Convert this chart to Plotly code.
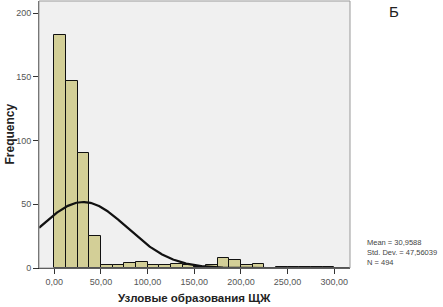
import numpy as np
import plotly.graph_objects as go

bin_starts = [0, 12.5, 25, 37.5, 50, 62.5, 75, 87.5, 100, 112.5, 125, 137.5, 150, 162.5,
              175, 187.5, 200, 212.5, 225, 237.5, 250, 262.5, 275, 287.5]
counts = [183, 147, 90, 25, 2, 2, 4, 5, 2, 2, 3, 2, 1, 2,
          8, 6, 2, 3, 0, 1, 1, 1, 1, 1]
bin_width = 12.5
mean_val = 30.9588
sd_val = 47.56039
n_val = 494
x_ticks = [0, 50, 100, 150, 200, 250, 300]
x_tick_labels = ["0,00", "50,00", "100,00", "150,00", "200,00", "250,00", "300,00"]
y_ticks = [0, 50, 100, 150, 200]

x_range = [-16.4, 316.9]
centers = [s + bin_width / 2 for s in bin_starts]

xs = np.linspace(x_range[0], x_range[1], 400)
ys = n_val * bin_width / (sd_val * np.sqrt(2 * np.pi)) * np.exp(-0.5 * ((xs - mean_val) / sd_val) ** 2)

fig = go.Figure()
fig.add_trace(go.Bar(x=centers, y=counts, width=bin_width,
                     marker=dict(color="#d3cf97", line=dict(color="#111111", width=1)),
                     showlegend=False))
fig.add_trace(go.Scatter(x=xs, y=ys, mode="lines", line=dict(color="#111111", width=2.2),
                         showlegend=False))

fig.update_layout(
    width=443, height=307,
    margin=dict(l=39, r=93, t=1, b=39, autoexpand=False),
    paper_bgcolor="white", plot_bgcolor="#f0f0f0",
    font=dict(family="Liberation Sans, Arial, sans-serif", color="#333333", size=9),
    bargap=0,
    xaxis=dict(range=x_range, tickvals=x_ticks, ticktext=x_tick_labels, automargin=False,
               ticks="outside", ticklen=5, tickcolor="#333333", showgrid=False, zeroline=False,
               showline=True, linecolor="#222222", linewidth=1, mirror=False,
               tickfont=dict(size=9, color="#555555")),
    yaxis=dict(range=[0, 209.6], tickvals=y_ticks, ticks="outside", ticklen=5, tickcolor="#333333",
               showgrid=False, zeroline=False, showline=True, linecolor="#555555", linewidth=1,
               automargin=False, tickfont=dict(size=9, color="#555555")),
)

# plot frame
fig.add_shape(type="rect", xref="paper", yref="paper", x0=0, y0=0, x1=1, y1=1,
              line=dict(color="#999999", width=1), layer="above")

fig.add_annotation(text="<b>Узловые образования ЩЖ</b>", xref="paper", yref="paper",
                   x=0.5, y=-38 / 267, xanchor="center", yanchor="bottom", showarrow=False,
                   font=dict(size=11.5, color="#222222"))
fig.add_annotation(text="<b>Frequency</b>", xref="paper", yref="paper", textangle=-90,
                   x=-39 / 311, y=0.5, xanchor="left", yanchor="middle", showarrow=False,
                   font=dict(size=12, color="#222222"))
fig.add_annotation(text="Б", xref="paper", yref="paper", x=(394 - 39) / 311, y=1.0,
                   xanchor="center", yanchor="top", showarrow=False,
                   font=dict(size=15, color="#222222"))
fig.add_annotation(text="Mean = 30,9588<br>Std. Dev. = 47,56039<br>N = 494",
                   xref="paper", yref="paper", x=(365 - 39) / 311, y=-1 / 267,
                   xanchor="left", yanchor="bottom", align="left", showarrow=False,
                   font=dict(size=7.5, color="#444444"))

fig.write_html("out.html", config={"displayModeBar": False},
               post_script="document.body.style.margin='0';document.body.style.overflow='hidden';")
